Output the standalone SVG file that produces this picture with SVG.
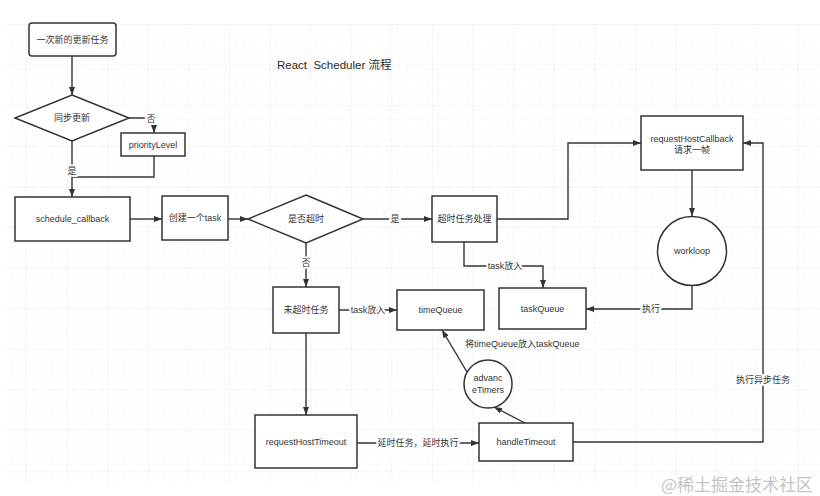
<svg xmlns="http://www.w3.org/2000/svg" width="820" height="496" viewBox="0 0 820 496">
<defs>
<pattern id="minor" x="26" y="24" width="10.15" height="10.15" patternUnits="userSpaceOnUse">
<path d="M0,0 H10.15 M0,0 V10.15" fill="none" stroke="#f6f6f6" stroke-width="1"/>
</pattern>
<pattern id="major" x="26" y="24" width="40.6" height="40.6" patternUnits="userSpaceOnUse">
<rect width="40.6" height="40.6" fill="url(#minor)"/>
<path d="M0,0 H40.6 M0,0 V40.6" fill="none" stroke="#ebebeb" stroke-width="1"/>
</pattern>
<marker id="arr" viewBox="0 0 8 6" refX="8" refY="3" markerWidth="8" markerHeight="6" markerUnits="userSpaceOnUse" orient="auto">
<path d="M0,0 L8,3 L0,6 z" fill="#333"/>
</marker>
</defs>
<style>
.box{fill:#fff;stroke:#333;stroke-width:1.5}
.t{font-family:"Liberation Sans","Noto Sans CJK SC",sans-serif;font-size:9px;fill:#333;text-anchor:middle;dominant-baseline:central}
.lbl{font-family:"Liberation Sans","Noto Sans CJK SC",sans-serif;font-size:9px;fill:#333;text-anchor:middle;dominant-baseline:central;stroke:#fff;stroke-width:4;paint-order:stroke;stroke-linejoin:round}
.ln{fill:none;stroke:#333;stroke-width:1.4}
.a{marker-end:url(#arr)}
</style>
<rect width="820" height="496" fill="#fff"/>
<rect x="6" y="23" width="814" height="460" fill="url(#major)"/>
<text x="277" y="65" xml:space="preserve" font-family="'Liberation Sans','Noto Sans CJK SC',sans-serif" font-size="11.5" fill="#2a2a2a" dominant-baseline="central">React  Scheduler 流程</text>

<g id="connectors">
<path class="ln a" d="M72,56 V95"/>
<path class="ln a" d="M129,118 H154 V133"/>
<text class="lbl" x="151" y="119">否</text>
<path class="ln" d="M154,156 V177 H72"/>
<path class="ln a" d="M72,141 V197"/>
<text class="lbl" x="72" y="171">是</text>
<path class="ln a" d="M130,219 H162"/>
<path class="ln a" d="M228,219 H248"/>
<path class="ln a" d="M363,219 H432"/>
<text class="lbl" x="395" y="219">是</text>
<path class="ln a" d="M497,219 H568 V143 H641"/>
<path class="ln a" d="M692,170 V216"/>
<path class="ln a" d="M692,286 V309 H586"/>
<text class="lbl" x="651" y="309">执行</text>
<path class="ln a" d="M464,242 V266 H543 V288"/>
<text class="lbl" x="505" y="266">task放入</text>
<path class="ln a" d="M306,243 V287"/>
<text class="lbl" x="306" y="263">否</text>
<path class="ln a" d="M339,310 H397"/>
<text class="lbl" x="368" y="310">task放入</text>
<path class="ln a" d="M306,333 V415"/>
<path class="ln a" d="M357,443 H479"/>
<rect x="379" y="437" width="78" height="12" fill="#fff"/>
<text class="lbl" x="418" y="443">延时任务，延时执行</text>
<path class="ln a" d="M525,423 L494,407"/>
<path class="ln a" d="M467,372 L442,330"/>
<text class="lbl" x="465" y="344" style="text-anchor:start;stroke-width:0">将timeQueue放入taskQueue</text>
<path class="ln a" d="M573,442 H763 V143 H743"/>
<text class="lbl" x="763" y="380">执行异步任务</text>
</g>

<g id="n-start"><rect class="box" x="29" y="23" width="87" height="33" rx="3"/><text class="t" x="72.5" y="39.5">一次新的更新任务</text></g>
<g id="n-sync"><polygon class="box" points="72,95 129,118 72,141 15,118"/><text class="t" x="72" y="118">同步更新</text></g>
<g id="n-priority"><rect class="box" x="121" y="133" width="64" height="23"/><text class="t" x="153" y="144.5">priorityLevel</text></g>
<g id="n-schedule"><rect class="box" x="15" y="197" width="115" height="44"/><text class="t" x="72.5" y="219">schedule_callback</text></g>
<g id="n-createtask"><rect class="box" x="162" y="196" width="66" height="44"/><text class="t" x="195" y="218">创建一个task</text></g>
<g id="n-timeout"><polygon class="box" points="306,195 363,219 306,243 248,219"/><text class="t" x="306" y="219">是否超时</text></g>
<g id="n-expired"><rect class="box" x="432" y="196" width="65" height="46"/><text class="t" x="464.5" y="219">超时任务处理</text></g>
<g id="n-rhc"><rect class="box" x="641" y="116" width="102" height="54"/><text class="t" x="692" y="139">requestHostCallback</text><text class="t" x="692" y="150">请求一帧</text></g>
<g id="n-workloop"><circle class="box" cx="692" cy="251" r="34.5"/><text class="t" x="692" y="251">workloop</text></g>
<g id="n-taskqueue"><rect class="box" x="499" y="288" width="87" height="41"/><text class="t" x="542.5" y="309">taskQueue</text></g>
<g id="n-notexpired"><rect class="box" x="273" y="287" width="66" height="46"/><text class="t" x="306" y="310">未超时任务</text></g>
<g id="n-timequeue"><rect class="box" x="397" y="290" width="87" height="40"/><text class="t" x="440.5" y="310">timeQueue</text></g>
<g id="n-rht"><rect class="box" x="255" y="415" width="102" height="53"/><text class="t" x="306" y="442">requestHostTimeout</text></g>
<g id="n-handle"><rect class="box" x="479" y="423" width="94" height="38"/><text class="t" x="526" y="442">handleTimeout</text></g>
<g id="n-advance"><circle class="box" cx="488" cy="384" r="24"/><text class="t" x="488" y="378">advanc</text><text class="t" x="488" y="390">eTimers</text></g>

<text x="813" y="483" font-family="'Noto Sans CJK SC',sans-serif" font-size="17" fill="#c4c4c4" text-anchor="end" dominant-baseline="central">@稀土掘金技术社区</text>
</svg>
